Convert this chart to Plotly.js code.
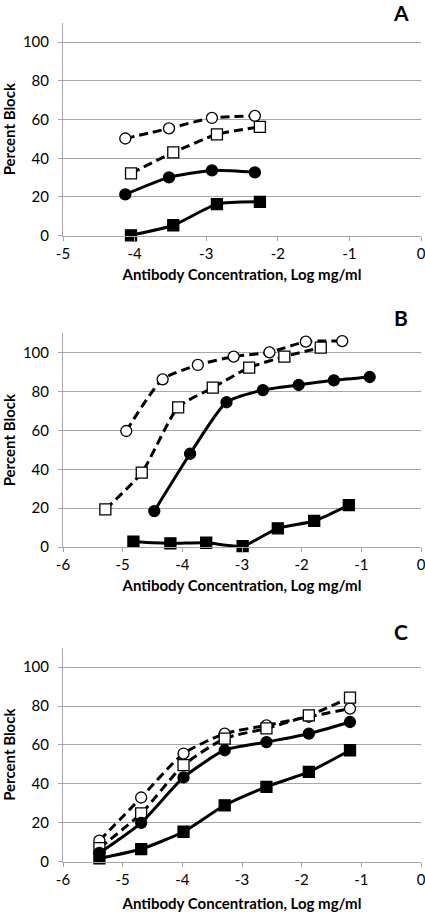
<!DOCTYPE html>
<html>
<head>
<meta charset="utf-8">
<script src="https://cdn.plot.ly/plotly-3.0.1.min.js"></script>
<style>html,body{margin:0;padding:0;background:#fff;}#chart{width:425px;height:912px;}</style>
</head>
<body>
<div id="chart"></div>
<script>
// ---- Panel A data ----
const aCircX = [-4.13, -3.52, -2.92, -2.32];
const aSqX = [-4.05, -3.46, -2.85, -2.25];
const aOpenCircY = [50.2, 55.4, 60.8, 61.9];
const aOpenSqY = [32.2, 43.0, 52.3, 56.2];
const aFilledCircY = [21.3, 30.1, 33.7, 32.7];
const aFilledSqY = [0.2, 5.4, 16.3, 17.5];

// ---- Panel B data ----
const bOpenCircX = [-4.94, -4.33, -3.74, -3.14, -2.54, -1.93, -1.32];
const bOpenCircY = [59.7, 86.3, 93.7, 98.0, 100.2, 105.7, 106.0];
const bOpenSqX = [-5.29, -4.68, -4.07, -3.49, -2.88, -2.29, -1.68];
const bOpenSqY = [19.4, 38.3, 71.9, 82.0, 92.3, 98.0, 102.6];
const bFilledCircX = [-4.47, -3.87, -3.26, -2.65, -2.05, -1.46, -0.86];
const bFilledCircY = [18.5, 48.0, 74.5, 80.8, 83.4, 85.8, 87.5];
const bFilledSqX = [-4.82, -4.20, -3.60, -2.99, -2.40, -1.79, -1.21];
const bFilledSqY = [2.7, 1.9, 2.2, 0.5, 9.6, 13.4, 21.6];

// ---- Panel C data ----
const cX = [-5.39, -4.69, -3.98, -3.29, -2.59, -1.88, -1.19];
const cOpenCircY = [10.8, 33.0, 55.6, 65.8, 70.1, 74.5, 78.7];
const cOpenSqY = [7.0, 24.8, 49.6, 63.3, 68.5, 75.2, 84.3];
const cFilledCircY = [4.5, 20.0, 43.3, 57.3, 61.5, 65.8, 71.8];
const cFilledSqY = [1.7, 6.5, 15.4, 29.0, 38.5, 46.2, 57.3];

// ---- tick labels ----
const yTicks = [0, 20, 40, 60, 80, 100];
const xTicksA = [-5, -4, -3, -2, -1, 0];
const xTicksBC = [-6, -5, -4, -3, -2, -1, 0];
const panelLetters = ["A", "B", "C"];
const xTitle = "Antibody Concentration, Log mg/ml";
const yTitle = "Percent Block";

const FONT = "Lato, 'Open Sans', sans-serif";

const styles = {
  openCirc: {dash: "9px,5px", symbol: "circle", fill: "#ffffff", size: 11},
  openSq: {dash: "9px,5px", symbol: "square", fill: "#ffffff", size: 11},
  filledCirc: {dash: "solid", symbol: "circle", fill: "#000000", size: 11},
  filledSq: {dash: "solid", symbol: "square", fill: "#000000", size: 11}
};

function tr(x, y, st, name, xa, ya) {
  const s = styles[st];
  return {
    type: "scatter", mode: "lines+markers", name: name, x: x, y: y,
    xaxis: xa, yaxis: ya, showlegend: false, cliponaxis: false,
    line: {color: "#000", width: 3, dash: s.dash, shape: "spline", smoothing: 0.6},
    marker: {symbol: s.symbol, size: s.size, color: s.fill, line: {color: "#000", width: 1.3}}
  };
}

const data = [
  tr(aCircX, aOpenCircY, "openCirc", "Open circle", "x", "y"),
  tr(aSqX, aOpenSqY, "openSq", "Open square", "x", "y"),
  tr(aCircX, aFilledCircY, "filledCirc", "Filled circle", "x", "y"),
  tr(aSqX, aFilledSqY, "filledSq", "Filled square", "x", "y"),

  tr(bOpenCircX, bOpenCircY, "openCirc", "Open circle", "x2", "y2"),
  tr(bOpenSqX, bOpenSqY, "openSq", "Open square", "x2", "y2"),
  tr(bFilledCircX, bFilledCircY, "filledCirc", "Filled circle", "x2", "y2"),
  tr(bFilledSqX, bFilledSqY, "filledSq", "Filled square", "x2", "y2"),

  tr(cX, cOpenCircY, "openCirc", "Open circle", "x3", "y3"),
  tr(cX, cOpenSqY, "openSq", "Open square", "x3", "y3"),
  tr(cX, cFilledCircY, "filledCirc", "Filled circle", "x3", "y3"),
  tr(cX, cFilledSqY, "filledSq", "Filled square", "x3", "y3")
];

const GRID = "#a6a6a6";
function xax(range, ticks, anchor, standoff) {
  return {
    anchor: anchor, domain: [0, 1], range: range, tickvals: ticks, ticktext: ticks.map(String),
    showgrid: false, zeroline: false, showline: true, linecolor: GRID, linewidth: 1,
    ticks: "outside", ticklen: 4, tickcolor: GRID, tickwidth: 1,
    tickfont: {family: FONT, size: 15, color: "#000"}, automargin: false,
    ticklabeloverflow: "allow",
    title: {text: xTitle, font: {family: FONT, size: 15, color: "#000", weight: "bold"}, standoff: standoff}
  };
}
function yax(domain, anchor) {
  return {
    anchor: anchor, domain: domain, range: [0, 110], tickvals: yTicks, ticktext: yTicks.map(String),
    showgrid: true, gridcolor: GRID, gridwidth: 1, zeroline: false,
    showline: true, linecolor: GRID, linewidth: 1,
    ticks: "outside", ticklen: 4, tickcolor: GRID, tickwidth: 1,
    tickfont: {family: FONT, size: 15, color: "#000"}, automargin: false,
    ticklabelstandoff: 6,
    title: {text: yTitle, font: {family: FONT, size: 15, color: "#000", weight: "bold"}, standoff: 10}
  };
}

const H = 912;
function py(p) { return 1 - p / H; }
function px(p) { return (p - 63) / 358; }

const layout = {
  width: 425, height: 912,
  margin: {l: 63, r: 4, t: 0, b: 0},
  paper_bgcolor: "#fff", plot_bgcolor: "#fff",
  font: {family: FONT, color: "#000"},
  showlegend: false,
  xaxis: xax([-5, 0], xTicksA, "y", 8),
  yaxis: yax([py(235.7), py(22.7)], "x"),
  xaxis2: xax([-6, 0], xTicksBC, "y2", 8),
  yaxis2: yax([py(547), py(333.3)], "x2"),
  xaxis3: xax([-6, 0], xTicksBC, "y3", 12),
  yaxis3: yax([py(861.7), py(647.7)], "x3"),
  annotations: [
    {text: panelLetters[0], xref: "paper", yref: "paper", x: px(401), y: py(12), showarrow: false, font: {family: FONT, size: 21, color: "#000", weight: "bold"}, xanchor: "center", yanchor: "middle"},
    {text: panelLetters[1], xref: "paper", yref: "paper", x: px(401), y: py(317), showarrow: false, font: {family: FONT, size: 21, color: "#000", weight: "bold"}, xanchor: "center", yanchor: "middle"},
    {text: panelLetters[2], xref: "paper", yref: "paper", x: px(401), y: py(631.5), showarrow: false, font: {family: FONT, size: 21, color: "#000", weight: "bold"}, xanchor: "center", yanchor: "middle"}
  ]
};

Plotly.newPlot("chart", data, layout, {displayModeBar: false, staticPlot: true});
</script>
</body>
</html>
